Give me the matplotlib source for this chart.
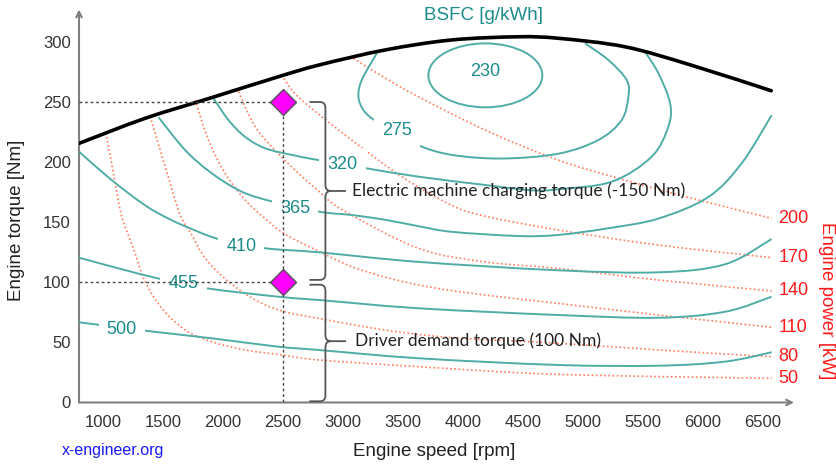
import matplotlib
matplotlib.use("Agg")
import matplotlib.pyplot as plt
from matplotlib.path import Path
from matplotlib.patches import PathPatch, Ellipse

# ---------------- data ----------------
x_ticks = [1000, 1500, 2000, 2500, 3000, 3500, 4000, 4500, 5000, 5500, 6000, 6500]
y_ticks = [0, 50, 100, 150, 200, 250, 300]

full_load_rpm = [800, 1350, 1900, 2460, 2800, 3350, 3900, 4460, 4800, 5350, 5900, 6570]
full_load_T = [215.6, 236.4, 253.5, 271, 280.8, 293.3, 301.6, 304.3, 303, 296, 280.8, 259.4]

bsfc_500_rpm = [800, 976, 1352, 1907, 2462, 2796, 3629, 4794, 5629, 6185, 6573]
bsfc_500_T = [66.7, 64.5, 59.7, 53.4, 46.4, 43.7, 36.8, 31.2, 30.6, 34, 41.8]

bsfc_455_rpm = [800, 1129, 1490, 1865, 2462, 2796, 3629, 4794, 5629, 6185, 6573]
bsfc_455_T = [120.5, 111.6, 102.5, 95, 88, 85.3, 78.4, 72.8, 70.5, 75.5, 88]

bsfc_410_rpm = [800, 1073, 1352, 1546, 1712, 1963, 2338, 2796, 3629, 4794, 5629, 6185, 6573]
bsfc_410_T = [208.7, 185, 164, 153, 145.5, 136, 128.5, 125, 117, 110, 108.3, 115, 136]

bsfc_365_rpm = [1463, 1685, 1907, 2157, 2421, 2804, 3073, 3352, 3640, 3907, 4462, 4794, 5212, 5629, 6046, 6323, 6573]
bsfc_365_T = [237.3, 210, 190.7, 175.4, 167, 158.7, 156, 152, 146.5, 142, 138.5, 139.4, 145, 153, 171, 199, 239]

bsfc_320_rpm = [1921, 2046, 2185, 2352, 2574, 2796, 3199, 3629, 4185, 4580, 4794, 5240, 5573, 5712, 5727, 5629, 5518]
bsfc_320_T = [253, 235, 221, 211.5, 206, 201.7, 194.8, 187.9, 181, 176.5, 177.4, 183.7, 204.5, 229.5, 249, 274, 291.8]

bsfc_275_rpm = [3282, 3157, 3129, 3171, 3254, 3449, 3629, 3907, 4324, 4794, 5129, 5323, 5379, 5365, 5212, 5018]
bsfc_275_T = [290.5, 268.3, 254.4, 243.3, 235.6, 225, 214, 206, 203, 207, 218.4, 235, 254.4, 268.3, 285, 298.8]

bsfc_230_center = (4187, 272.2)
bsfc_230_width = 950
bsfc_230_height = 53.2

bsfc_values = ["230", "275", "320", "365", "410", "455", "500"]
bsfc_label_rpm = [4185, 3449, 2996, 2602, 2152, 1671, 1157]
bsfc_label_T = [275, 226, 198, 161.6, 129.6, 99.2, 61]

p50_rpm = [1032, 1102, 1157, 1254, 1352, 1490, 1685, 1907, 2185, 2496, 2796, 3629, 4794, 6573]
p50_T = [221, 182.4, 154.6, 128, 100.5, 78.4, 60.3, 50.6, 43.7, 39.5, 35.4, 29.8, 23.4, 20.1]

p80_rpm = [1393, 1477, 1560, 1643, 1740, 1852, 2046, 2296, 2518, 2796, 3352, 3907, 4794, 5629, 6573]
p80_T = [238, 210, 182.4, 156, 139.4, 120, 100.5, 83.9, 75.5, 70, 60.3, 54, 49.3, 43.7, 38.1]

p110_rpm = [1768, 1879, 2018, 2185, 2352, 2518, 2796, 3129, 3629, 4185, 4794, 5629, 6573]
p110_T = [251.7, 218.4, 190.7, 168.5, 153, 140, 126, 111, 97.8, 89.4, 82.5, 72.8, 62.6]

p140_rpm = [2130, 2268, 2462, 2629, 2796, 3000, 3629, 4185, 4794, 5629, 6573]
p140_T = [258.6, 229.5, 207, 190.7, 176, 160, 128.3, 117, 111.6, 101.9, 92.8]

p170_rpm = [2490, 2600, 2796, 3073, 3490, 3907, 4185, 4794, 5629, 6573]
p170_T = [272.5, 257, 240, 218.4, 187.9, 164, 155, 143.5, 131, 120.5]

p200_rpm = [3087, 3352, 3629, 4185, 4794, 5352, 5963, 6573]
p200_T = [286.3, 270, 254.4, 226.7, 201.7, 185, 168.5, 153.2]

power_labels = ["50", "80", "110", "140", "170", "200"]

op_rpm = [2500, 2500]
op_T = [250, 100]

# ---------------- style ----------------
TEAL = "#4fada6"
TEAL_TXT = "#1b8c8a"
RED_LINE = "#ff7a5c"
RED_TXT = "#ff1a1a"
GRAY = "#808080"

plt.rcParams["font.family"] = ["Liberation Sans", "DejaVu Sans"]

fig = plt.figure(figsize=(8.36, 4.68), dpi=100)
ax = fig.add_axes([0.0945, 0.14, 0.8553, 0.8397])
ax.set_xlim(800, 6760)
ax.set_ylim(0, 327)


def smooth_curve(xs, ys, **kw):
    """Draw a smooth curve through the given points (Catmull-Rom as cubic Bezier)."""
    pts = list(zip(xs, ys))
    n = len(pts)
    verts = [pts[0]]
    codes = [Path.MOVETO]
    for i in range(n - 1):
        p0 = pts[i - 1] if i > 0 else pts[i]
        p1 = pts[i]
        p2 = pts[i + 1]
        p3 = pts[i + 2] if i + 2 < n else pts[i + 1]
        c1 = (p1[0] + (p2[0] - p0[0]) / 6.0, p1[1] + (p2[1] - p0[1]) / 6.0)
        c2 = (p2[0] - (p3[0] - p1[0]) / 6.0, p2[1] - (p3[1] - p1[1]) / 6.0)
        verts += [c1, c2, p2]
        codes += [Path.CURVE4] * 3
    ax.add_patch(PathPatch(Path(verts, codes), fill=False, **kw))


for s in ax.spines.values():
    s.set_visible(False)
ax.annotate("", xy=(1, 0), xytext=(0, 0), xycoords="axes fraction",
            arrowprops=dict(arrowstyle="->", color=GRAY, lw=1.5, shrinkA=0, shrinkB=0))
ax.annotate("", xy=(0, 1), xytext=(0, 0), xycoords="axes fraction",
            arrowprops=dict(arrowstyle="->", color=GRAY, lw=1.5, shrinkA=0, shrinkB=0))

ax.set_xticks(x_ticks)
ax.set_yticks(y_ticks)
ax.tick_params(axis="both", length=0, labelsize=12, colors="#333333")
ax.tick_params(axis="x", pad=9)
ax.tick_params(axis="y", pad=6)

# power lines
power_sets = [(p50_rpm, p50_T), (p80_rpm, p80_T), (p110_rpm, p110_T),
              (p140_rpm, p140_T), (p170_rpm, p170_T), (p200_rpm, p200_T)]
for (r, t), lab in zip(power_sets, power_labels):
    smooth_curve(r, t, ec=RED_LINE, lw=1.2, ls=(0, (1, 1.5)), zorder=2)
    ax.annotate(lab, xy=(r[-1], t[-1]), xytext=(5, 0), textcoords="offset points",
                color=RED_TXT, fontsize=13, va="center", ha="left", annotation_clip=False)

# BSFC contours
contours = [(bsfc_275_rpm, bsfc_275_T), (bsfc_320_rpm, bsfc_320_T), (bsfc_365_rpm, bsfc_365_T),
            (bsfc_410_rpm, bsfc_410_T), (bsfc_455_rpm, bsfc_455_T), (bsfc_500_rpm, bsfc_500_T)]
for r, t in contours:
    smooth_curve(r, t, ec=TEAL, lw=1.4, zorder=3)
ax.add_patch(Ellipse(bsfc_230_center, bsfc_230_width, bsfc_230_height,
                     fill=False, ec=TEAL, lw=1.4, zorder=3))
for lab, r, t in zip(bsfc_values, bsfc_label_rpm, bsfc_label_T):
    ax.text(r, t, lab, color=TEAL_TXT, fontsize=13, ha="center", va="center", zorder=4,
            bbox=dict(boxstyle="square,pad=0.45", fc="white", ec="none") if lab != "230" else None)

# full load
smooth_curve(full_load_rpm, full_load_T, ec="black", lw=2.6, zorder=5, capstyle="round")

# guide lines
for t in op_T:
    ax.plot([800, op_rpm[0]], [t, t], color="#444444", lw=1, ls=(0, (2, 2)), zorder=6)
ax.plot([op_rpm[0], op_rpm[0]], [0, max(op_T)], color="#444444", lw=1, ls=(0, (2, 2)), zorder=6)
ax.plot(op_rpm, op_T, ls="none", marker="D", ms=13, mfc="#ff00ff", mec="#555555", mew=1, zorder=7)


def brace(x_spine, y_top, y_bot, y_tip, x_end, x_tip, dx, r):
    verts = [(x_end, y_top), (x_spine - dx, y_top), (x_spine, y_top), (x_spine, y_top - r),
             (x_spine, y_tip + r), (x_spine, y_tip), (x_spine + dx, y_tip), (x_tip, y_tip),
             (x_spine + dx, y_tip), (x_spine, y_tip), (x_spine, y_tip - r),
             (x_spine, y_bot + r), (x_spine, y_bot), (x_spine - dx, y_bot), (x_end, y_bot)]
    codes = [Path.MOVETO, Path.LINETO, Path.CURVE3, Path.CURVE3,
             Path.LINETO, Path.CURVE3, Path.CURVE3, Path.LINETO,
             Path.MOVETO, Path.CURVE3, Path.CURVE3,
             Path.LINETO, Path.CURVE3, Path.CURVE3, Path.LINETO]
    ax.add_patch(PathPatch(Path(verts, codes), fill=False, ec="#555555", lw=1.3, zorder=6,
                           clip_on=False))


brace(2854, 250, 102, 176, 2721, 3025, 45, 5)
brace(2854, 98, 1, 51, 2721, 3025, 45, 5)
ax.text(3075, 176, "Electric machine charging torque (-150 Nm)", fontsize=12.5,
        family=["Lato", "DejaVu Sans"], color="#222222", va="center", ha="left", zorder=6)
ax.text(3100, 51, "Driver demand torque (100 Nm)", fontsize=12.5,
        family=["Lato", "DejaVu Sans"], color="#222222", va="center", ha="left", zorder=6)

# titles / labels
fig.text(484 / 836, 1 - 15 / 468, "BSFC [g/kWh]", color=TEAL_TXT, fontsize=13.5,
         ha="center", va="center")
fig.text(434 / 836, 1 - 451 / 468, "Engine speed [rpm]", color="#222222", fontsize=13.5,
         ha="center", va="center")
fig.text(17 / 836, 1 - 220 / 468, "Engine torque [Nm]", color="#222222", fontsize=13.5,
         ha="center", va="center", rotation=90)
fig.text(826 / 836, 1 - 301 / 468, "Engine power [kW]", color=RED_TXT, fontsize=13.5,
         ha="center", va="center", rotation=-90)
fig.text(113 / 836, 1 - 450 / 468, "x-engineer.org", color="#1a1aff", fontsize=11.5,
         ha="center", va="center")

fig.savefig("out.png", dpi=100)
